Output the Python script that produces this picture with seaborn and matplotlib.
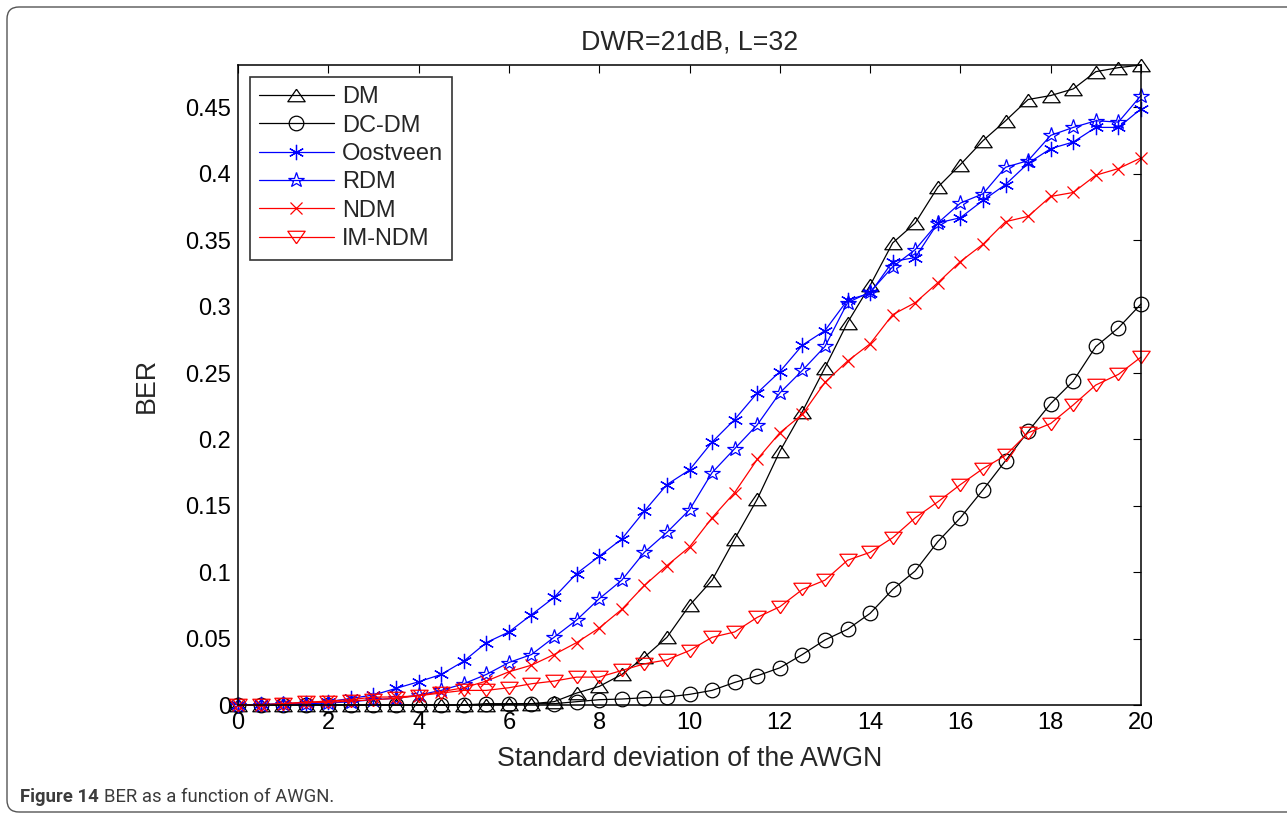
import matplotlib
matplotlib.use("Agg")
import matplotlib.pyplot as plt
import matplotlib.transforms as mtransforms
from matplotlib.patches import FancyBboxPatch
from matplotlib.ticker import FuncFormatter, MultipleLocator
import seaborn as sns

# Standard deviation of the AWGN
sigma = [0, 0.5, 1, 1.5, 2, 2.5, 3, 3.5, 4, 4.5, 5, 5.5, 6, 6.5, 7, 7.5, 8, 8.5,
         9, 9.5, 10, 10.5, 11, 11.5, 12, 12.5, 13, 13.5, 14, 14.5, 15, 15.5, 16,
         16.5, 17, 17.5, 18, 18.5, 19, 19.5, 20]

ber_dm = [0, 0, 0, 0, 0, 0, 0, 0, 0, 0, 0, 0, 0.0005, 0.001, 0.0025, 0.009,
          0.014, 0.023, 0.036, 0.051, 0.075, 0.094, 0.125, 0.155, 0.191, 0.221,
          0.254, 0.288, 0.316, 0.348, 0.363, 0.390, 0.407, 0.425, 0.440, 0.456,
          0.459, 0.464, 0.477, 0.480, 0.482]

ber_dcdm = [0, 0, 0, 0, 0, 0, 0, 0, 0, 0, 0, 0.001, 0.001, 0.001, 0.001, 0.0025,
            0.004, 0.0045, 0.0055, 0.006, 0.008, 0.011, 0.017, 0.022, 0.028,
            0.038, 0.049, 0.057, 0.069, 0.087, 0.101, 0.123, 0.141, 0.162, 0.184,
            0.206, 0.227, 0.244, 0.270, 0.284, 0.302]

ber_oostveen = [0, 0.0005, 0.001, 0.0015, 0.0025, 0.005, 0.0075, 0.0125, 0.0175,
                0.023, 0.033, 0.047, 0.055, 0.068, 0.081, 0.099, 0.112, 0.125,
                0.146, 0.166, 0.177, 0.198, 0.215, 0.235, 0.251, 0.271, 0.282,
                0.305, 0.310, 0.334, 0.337, 0.363, 0.367, 0.380, 0.392, 0.408,
                0.419, 0.424, 0.435, 0.435, 0.449]

ber_rdm = [0, 0, 0.0005, 0.001, 0.0015, 0.0025, 0.004, 0.005, 0.0075, 0.011,
           0.016, 0.023, 0.032, 0.038, 0.051, 0.064, 0.080, 0.094, 0.115, 0.130,
           0.147, 0.175, 0.193, 0.211, 0.235, 0.252, 0.270, 0.303, 0.311, 0.330,
           0.343, 0.363, 0.378, 0.385, 0.405, 0.410, 0.429, 0.435, 0.440, 0.439,
           0.459]

ber_ndm = [0, 0, 0.001, 0.002, 0.003, 0.004, 0.006, 0.006, 0.007, 0.010, 0.013,
           0.018, 0.025, 0.030, 0.038, 0.047, 0.058, 0.072, 0.090, 0.105, 0.119,
           0.141, 0.160, 0.185, 0.205, 0.219, 0.243, 0.259, 0.272, 0.294, 0.303,
           0.318, 0.334, 0.347, 0.364, 0.368, 0.383, 0.386, 0.399, 0.404, 0.412]

ber_imndm = [0, 0, 0.001, 0.002, 0.002, 0.003, 0.004, 0.005, 0.007, 0.009, 0.011,
             0.011, 0.013, 0.016, 0.018, 0.021, 0.021, 0.026, 0.031, 0.034, 0.041,
             0.051, 0.055, 0.066, 0.074, 0.087, 0.094, 0.109, 0.115, 0.126, 0.141,
             0.153, 0.166, 0.178, 0.188, 0.205, 0.212, 0.226, 0.241, 0.249, 0.262]

sns.set_style("white")
plt.rcParams["font.family"] = ["Liberation Sans", "DejaVu Sans"]

W, H = 1287, 814
fig = plt.figure(figsize=(W / 100, H / 100), dpi=100)
ax = fig.add_axes([238 / W, 1 - 705 / H, (1141 - 238) / W, (705 - 65) / H])

# wide, flat triangles (MATLAB style)
tri_up = [(0, 0.72), (-1, -0.72), (1, -0.72), (0, 0.72)]
tri_down = [(0, -0.72), (-1, 0.72), (1, 0.72), (0, -0.72)]

series = [
    ("DM", ber_dm, "black", tri_up, 12.5),
    ("DC-DM", ber_dcdm, "black", "o", 10.5),
    ("Oostveen", ber_oostveen, "blue", (6, 2, 0), 11),
    ("RDM", ber_rdm, "blue", "*", 11.5),
    ("NDM", ber_ndm, "red", "x", 8),
    ("IM-NDM", ber_imndm, "red", tri_down, 12.5),
]

for name, vals, color, marker, ms in series:
    sns.lineplot(x=sigma, y=vals, ax=ax, color=color, marker=marker,
                 markersize=ms, markerfacecolor="none", markeredgecolor=color,
                 markeredgewidth=0.9, linewidth=0.9, label=name, clip_on=False)

ax.set_xlim(0, 20)
ax.set_ylim(0, 0.482)
ax.xaxis.set_major_locator(MultipleLocator(2))
ax.yaxis.set_major_locator(MultipleLocator(0.05))
ax.yaxis.set_major_formatter(FuncFormatter(lambda v, p: f"{v:g}"))

fs = 17
fs_lab = 19.3
ax.tick_params(axis="both", which="major", direction="in", length=6, width=0.8,
               labelsize=fs, colors="black", top=True, right=True, pad=5)
for s in ax.spines.values():
    s.set_visible(True)
    s.set_color("black")
    s.set_linewidth(1.1)

ax.set_title("DWR=21dB, L=32", fontsize=fs_lab, pad=11)
ax.set_xlabel("Standard deviation of the AWGN", fontsize=fs_lab)
ax.set_ylabel("BER", fontsize=fs_lab)
ax.xaxis.set_label_coords(0.5, -0.064)
ax.yaxis.set_label_coords(-0.087, 0.5)

leg = ax.legend(loc="upper left", fontsize=fs, frameon=True, fancybox=False,
                borderaxespad=0.5, handlelength=3.15, handletextpad=0.35,
                labelspacing=0.27, borderpad=0.4)
leg.get_frame().set_edgecolor("black")
leg.get_frame().set_linewidth(1.2)

# journal figure frame and caption
frame = FancyBboxPatch((7, 2), 1320, 805, boxstyle="round,pad=0,rounding_size=12",
                       transform=mtransforms.IdentityTransform(), fill=False,
                       edgecolor="#555555", linewidth=1.0)
fig.patches.append(frame)

cap_color = "#3c3c3c"
t1 = fig.text(20 / W, 1 - 802 / H, "Figure 14", fontsize=13.3, fontweight="bold",
              color=cap_color, family="Roboto", va="baseline", ha="left")
fig.canvas.draw()
bb = t1.get_window_extent()
fig.text((bb.x1 + 5) / W, 1 - 802 / H, "BER as a function of AWGN.", fontsize=13.3,
         color=cap_color, family="Roboto", va="baseline", ha="left")

# the printed panel is trimmed just past the right end of the x axis
trim = mtransforms.Bbox.from_extents(0, 0, 1152, H)
for lbl in ax.get_xticklabels():
    lbl.set_clip_box(trim)
    lbl.set_clip_on(True)

fig.savefig("out.png", dpi=100)
